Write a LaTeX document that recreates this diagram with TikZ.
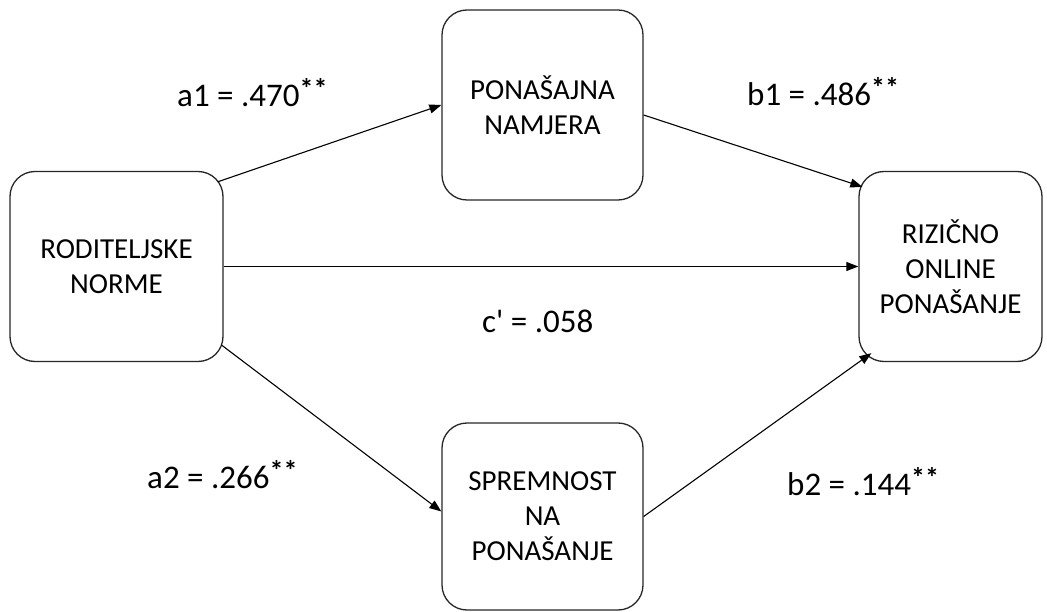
\documentclass[tikz,border=0pt]{standalone}
\usepackage{fontspec}
\setmainfont{Carlito}
\usetikzlibrary{arrows.meta,calc}
\newcommand{\sigstars}{\raisebox{8pt}{\fontsize{28}{28}\selectfont\bfseries **}}
\begin{document}
\begin{tikzpicture}[x=1pt,y=-1pt,
  box/.style={draw=black!85, rounded corners=25pt, line width=1.3pt, align=center,
    font=\fontsize{29}{35}\selectfont, inner sep=0pt},
  lab/.style={font=\fontsize{33}{40}\selectfont, anchor=base west, inner sep=0pt},
  arr/.style={-{Triangle[length=12pt,width=9pt]}, line width=1.1pt}]
\useasboundingbox (0,0) rectangle (1047,612);
\node[box, minimum width=213pt, minimum height=190pt] (l) at (116.5,266.5) {RODITELJSKE\\NORME};
\node[box, minimum width=201pt, minimum height=190pt] (t) at (542.5,105) {PONAŠAJNA\\NAMJERA};
\node[box, minimum width=201pt, minimum height=187pt] (b) at (542.5,516.5) {SPREMNOST\\NA\\PONAŠANJE};
\node[box, minimum width=183pt, minimum height=190pt] (r) at (950.5,266.5) {RIZIČNO\\ONLINE\\PONAŠANJE};
\draw[arr] ($(l.north east)+(-6,11)$) -- (t.west);
\draw[arr] ($(t.east)+(0,10)$) -- ($(r.north west)+(4,16)$);
\draw[arr] (l.east) -- (r.west);
\draw[arr] ($(l.south east)+(-2,-17)$) -- ($(b.west)+(0,-5)$);
\draw[arr] ($(b.east)+(0,0)$) -- ($(r.south west)+(13,-9)$);
\node[lab] (la1) at (177,107) {a1 = .470\sigstars};
\node[lab] (lb1) at (747,106) {b1 = .486\sigstars};
\node[lab] (lc) at (482,333) {c\textquotesingle{} = .058};
\node[lab] (la2) at (147,488) {a2 = .266\sigstars};
\node[lab] (lb2) at (787,495) {b2 = .144\sigstars};
\end{tikzpicture}
\end{document}
